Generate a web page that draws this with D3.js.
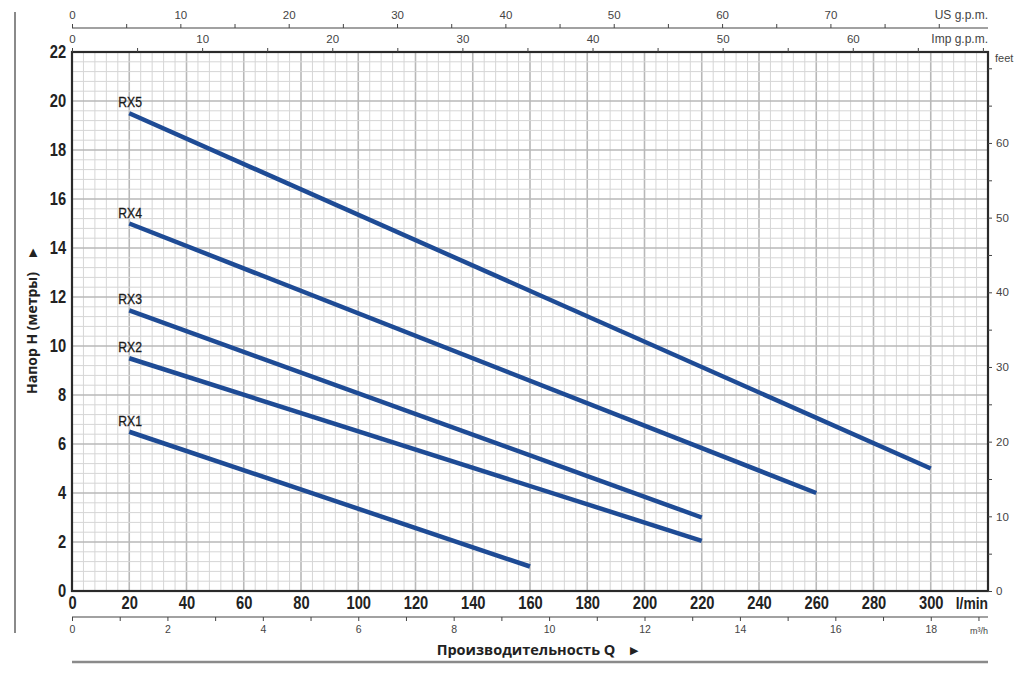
<!DOCTYPE html>
<html><head><meta charset="utf-8">
<script src="https://cdn.jsdelivr.net/npm/d3@7"></script>
<style>
body{margin:0;background:#fff;}
svg{display:block;}
</style></head>
<body>
<script>
// ---- data ----
const models = ["RX1", "RX2", "RX3", "RX4", "RX5"];
const rx1 = [[20, 6.5], [160, 1.0]];
const rx2 = [[20, 9.5], [220, 2.05]];
const rx3 = [[20, 11.45], [220, 3.0]];
const rx4 = [[20, 15.0], [260, 4.0]];
const rx5 = [[20, 19.5], [300, 5.0]];
const curves = [rx1, rx2, rx3, rx4, rx5];

const lminTicks = [0, 20, 40, 60, 80, 100, 120, 140, 160, 180, 200, 220, 240, 260, 280, 300];
const headTicks = [0, 2, 4, 6, 8, 10, 12, 14, 16, 18, 20, 22];
const m3hLabels = [0, 2, 4, 6, 8, 10, 12, 14, 16, 18];
const usLabels = [0, 10, 20, 30, 40, 50, 60, 70];
const impLabels = [0, 10, 20, 30, 40, 50, 60];
const feetLabels = [0, 10, 20, 30, 40, 50, 60];

// ---- layout ----
const W = 1024, H = 675;
const L = 72, R = 988, T = 52, B = 591;
const qMax = 320, hMax = 22;
const sans = "'Liberation Sans',Arial,sans-serif";
const bold = "'Open Sans','Noto Sans',sans-serif";
const squeeze = "scale(0.84,1)";

const svg = d3.select("body").append("svg").attr("width", W).attr("height", H);

const x = d3.scaleLinear().domain([0, qMax]).range([L, R]);
const y = d3.scaleLinear().domain([0, hMax]).range([B, T]);
const xUS = d3.scaleLinear().domain([0, qMax / 3.785]).range([L, R]);
const xImp = d3.scaleLinear().domain([0, qMax / 4.546]).range([L, R]);
const xM3 = d3.scaleLinear().domain([0, qMax * 0.06]).range([L, R]);
const yFt = d3.scaleLinear().domain([0, hMax * 3.281]).range([B, T]);

// ---- grid ----
const g = svg.append("g");
const vMinor = d3.range(0, qMax + 0.001, 4);
const hMinor = d3.range(0, hMax + 0.001, 0.4);
const isMajV = d => Math.round(d) % 20 === 0;
const isMajH = d => Math.abs(d / 2 - Math.round(d / 2)) < 0.01;
g.selectAll("line.vm").data(vMinor).join("line")
  .attr("x1", d => x(d)).attr("x2", d => x(d)).attr("y1", T).attr("y2", B)
  .attr("stroke", d => isMajV(d) ? "#b8b8b8" : "#d6d6d6")
  .attr("stroke-width", d => isMajV(d) ? 1.6 : 1);
g.selectAll("line.hm").data(hMinor).join("line")
  .attr("y1", d => y(d)).attr("y2", d => y(d)).attr("x1", L).attr("x2", R)
  .attr("stroke", d => isMajH(d) ? "#b8b8b8" : "#d6d6d6")
  .attr("stroke-width", d => isMajH(d) ? 1.6 : 1);

// ---- curves ----
const line = d3.line().x(d => x(d[0])).y(d => y(d[1]));
svg.selectAll("path.curve").data(curves).join("path")
  .attr("d", line).attr("fill", "none")
  .attr("stroke", "#1e4b95").attr("stroke-width", 4.5);
svg.selectAll("g.model").data(models).join("g")
  .attr("transform", (d, i) => `translate(${x(curves[i][0][0]) - 11},${y(curves[i][0][1]) - 6})`)
  .append("text").attr("transform", squeeze)
  .attr("font-family", sans).attr("font-size", 14.5).attr("fill", "#1a1a1a")
  .attr("stroke", "#1a1a1a").attr("stroke-width", 0.3)
  .text(d => d);

// ---- frame ----
svg.append("rect").attr("x", L).attr("y", T).attr("width", R - L).attr("height", B - T)
  .attr("fill", "none").attr("stroke", "#2a2a2a").attr("stroke-width", 2.2);

// ---- left axis (head m) ----
const yAx = svg.append("g").attr("transform", `translate(${L},0)`)
  .call(d3.axisLeft(y).tickValues(headTicks).tickSize(0).tickPadding(7));
yAx.select(".domain").remove();
yAx.selectAll("text").attr("font-family", sans).attr("font-size", 17.5)
  .attr("font-weight", "bold").attr("fill", "#222").attr("transform", squeeze);

// ---- bottom l/min ----
const xAx = svg.append("g").attr("transform", `translate(0,${B})`)
  .call(d3.axisBottom(x).tickValues(lminTicks).tickSize(0).tickPadding(6));
xAx.select(".domain").remove();
xAx.selectAll("text").attr("font-family", sans).attr("font-size", 17.5)
  .attr("font-weight", "bold").attr("fill", "#222").attr("transform", squeeze);
svg.append("g").attr("transform", `translate(${R},609)`).append("text")
  .attr("transform", squeeze).attr("text-anchor", "end")
  .attr("font-family", sans).attr("font-size", 16.5).attr("font-weight", "bold").attr("fill", "#222")
  .text("l/min");

// ---- bottom m3/h ----
const mAx = svg.append("g").attr("transform", "translate(0,617)")
  .call(d3.axisBottom(xM3).tickValues(d3.range(0, 19.001, 1)).tickSize(4).tickPadding(5)
    .tickFormat(d => m3hLabels.includes(d) ? d : ""));
mAx.select(".domain").attr("d", `M${L},0H${R}`).attr("stroke", "#444").attr("stroke-width", 1.2);
mAx.selectAll("line").attr("stroke", "#444");
mAx.selectAll("text").attr("font-family", sans).attr("font-size", 10.5).attr("fill", "#444");
svg.append("text").attr("x", R).attr("y", 634).attr("text-anchor", "end")
  .attr("font-family", sans).attr("font-size", 9).attr("fill", "#444")
  .text("m³/h");

// ---- top US gpm ----
const usAx = svg.append("g").attr("transform", "translate(0,28)")
  .call(d3.axisTop(xUS).tickValues(d3.range(0, 80.001, 5)).tickSize(4).tickPadding(5)
    .tickFormat(d => usLabels.includes(d) ? d : ""));
usAx.select(".domain").attr("d", `M${L},0H${R}`).attr("stroke", "#444").attr("stroke-width", 1.2);
usAx.selectAll("line").attr("stroke", "#444");
usAx.selectAll("text").attr("font-family", sans).attr("font-size", 11.5).attr("fill", "#444");
svg.append("text").attr("x", R).attr("y", 19).attr("text-anchor", "end")
  .attr("font-family", sans).attr("font-size", 12).attr("fill", "#444").text("US g.p.m.");

// ---- top Imp gpm ----
const impAx = svg.append("g").attr("transform", `translate(0,${T})`)
  .call(d3.axisTop(xImp).tickValues(d3.range(0, 70.001, 5)).tickSize(4).tickPadding(5)
    .tickFormat(d => impLabels.includes(d) ? d : ""));
impAx.select(".domain").remove();
impAx.selectAll("line").attr("stroke", "#444");
impAx.selectAll("text").attr("font-family", sans).attr("font-size", 11.5).attr("fill", "#444");
svg.append("text").attr("x", R).attr("y", 43).attr("text-anchor", "end")
  .attr("font-family", sans).attr("font-size", 12).attr("fill", "#444").text("Imp g.p.m.");

// ---- right feet ----
const ftAx = svg.append("g").attr("transform", `translate(${R},0)`)
  .call(d3.axisRight(yFt).tickValues(d3.range(0, 70.001, 5)).tickSize(4).tickPadding(4)
    .tickFormat(d => feetLabels.includes(d) ? d : ""));
ftAx.select(".domain").remove();
ftAx.selectAll("line").attr("stroke", "#444");
ftAx.selectAll("text").attr("font-family", sans).attr("font-size", 11.5).attr("fill", "#444");
svg.append("text").attr("x", 995).attr("y", 62)
  .attr("font-family", sans).attr("font-size", 11).attr("fill", "#444").text("feet");

// ---- titles ----
svg.append("text").attr("x", 526).attr("y", 655).attr("text-anchor", "middle")
  .attr("font-family", bold).attr("font-size", 14.5).attr("font-weight", "bold").attr("fill", "#222")
  .text("Производительность Q");
svg.append("text").attr("x", 630).attr("y", 654)
  .attr("font-family", sans).attr("font-size", 11).attr("fill", "#222").text("▶");
svg.append("text").attr("transform", "translate(37,333) rotate(-90)").attr("text-anchor", "middle")
  .attr("font-family", bold).attr("font-size", 14).attr("font-weight", "bold").attr("fill", "#222")
  .text("Напор H (метры)");
svg.append("text").attr("transform", "translate(36,257) rotate(-90)")
  .attr("font-family", sans).attr("font-size", 11).attr("fill", "#222").text("▶");

// ---- decorative rules ----
svg.append("line").attr("x1", L).attr("x2", R).attr("y1", 662).attr("y2", 662)
  .attr("stroke", "#8a8a8a").attr("stroke-width", 2.5);
svg.append("line").attr("x1", 15).attr("x2", 15).attr("y1", 12).attr("y2", 633)
  .attr("stroke", "#8a8a8a").attr("stroke-width", 2);
</script>
</body></html>
